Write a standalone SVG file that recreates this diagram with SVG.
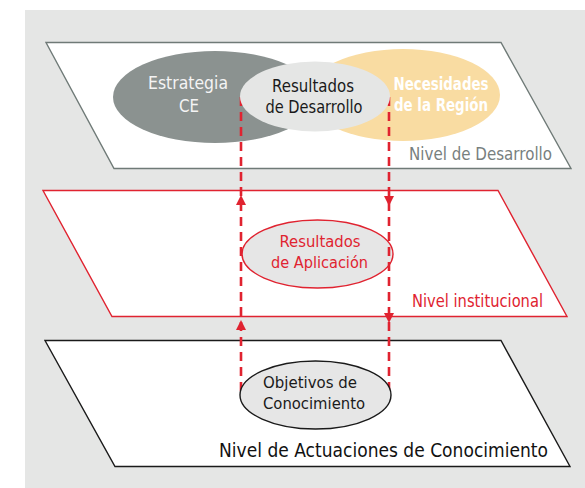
<svg xmlns="http://www.w3.org/2000/svg" width="585" height="488" viewBox="0 0 585 488">
<style>
.t{font-family:"DejaVu Sans","Liberation Sans",sans-serif;}
.lvl{stroke-width:1.4;fill:#ffffff;}
.dash{stroke:#e02330;stroke-width:2.6;stroke-dasharray:9 6;fill:none;}
.ah{fill:#e02330;}
</style>
<rect x="25" y="10" width="560" height="478" fill="#e5e6e5"/>
<g id="nivel-desarrollo">
<polygon class="lvl" points="46,42.5 501,42.5 571,168.5 114,168.5" stroke="#6f7a77"/>
<text class="t" x="409" y="160" font-size="17" fill="#78807e" textLength="143" lengthAdjust="spacingAndGlyphs">Nivel de Desarrollo</text>
</g>
<g id="nivel-institucional">
<polygon class="lvl" points="43,190.5 498,190.5 567,316.5 112,316.5" stroke="#e02330"/>
<text class="t" x="412" y="307" font-size="17" fill="#e02330" textLength="131" lengthAdjust="spacingAndGlyphs">Nivel institucional</text>
</g>
<g id="nivel-actuaciones">
<polygon class="lvl" points="45,340.5 501,340.5 570,466.5 115,466.5" stroke="#1a1a1a"/>
<text class="t" x="219" y="457" font-size="19" fill="#111" textLength="329" lengthAdjust="spacingAndGlyphs">Nivel de Actuaciones de Conocimiento</text>
</g>
<g id="estrategia-ce">
<ellipse cx="215" cy="97" rx="102" ry="46" fill="#8b9290"/>
<text class="t" x="188" y="89" font-size="17" fill="#f4f4f4" text-anchor="middle" textLength="80" lengthAdjust="spacingAndGlyphs">Estrategia</text>
<text class="t" x="189" y="112" font-size="17" fill="#f4f4f4" text-anchor="middle" textLength="20" lengthAdjust="spacingAndGlyphs">CE</text>
</g>
<g id="necesidades-region">
<ellipse cx="403" cy="95" rx="97" ry="46" fill="#f9dca2"/>
<text class="t" x="441" y="90" font-size="17" font-weight="bold" fill="#ffffff" text-anchor="middle" textLength="95" lengthAdjust="spacingAndGlyphs">Necesidades</text>
<text class="t" x="441" y="111" font-size="17" font-weight="bold" fill="#ffffff" text-anchor="middle" textLength="94" lengthAdjust="spacingAndGlyphs">de la Región</text>
</g>
<g id="resultados-aplicacion">
<ellipse cx="317.5" cy="254" rx="75.5" ry="34" fill="#e6e6e6" stroke="#e02330" stroke-width="1.4"/>
<text class="t" x="320" y="247" font-size="16" fill="#e02330" text-anchor="middle" textLength="81" lengthAdjust="spacingAndGlyphs">Resultados</text>
<text class="t" x="319.5" y="268" font-size="16" fill="#e02330" text-anchor="middle" textLength="97" lengthAdjust="spacingAndGlyphs">de Aplicación</text>
</g>
<g id="connectors">
<line class="dash" x1="241" y1="97" x2="241" y2="395"/>
<line class="dash" x1="389" y1="97" x2="389" y2="395"/>
<polygon class="ah" points="241,195 236,205 246,205"/>
<polygon class="ah" points="241,320 236,330 246,330"/>
<polygon class="ah" points="389,206 384,196 394,196"/>
<polygon class="ah" points="389,323 384,313 394,313"/>
</g>
<g id="resultados-desarrollo">
<ellipse cx="315" cy="96.5" rx="75" ry="35" fill="#e5e6e5"/>
<text class="t" x="313" y="92" font-size="17" fill="#1a1a1a" text-anchor="middle" textLength="82" lengthAdjust="spacingAndGlyphs">Resultados</text>
<text class="t" x="314" y="113" font-size="17" fill="#1a1a1a" text-anchor="middle" textLength="97" lengthAdjust="spacingAndGlyphs">de Desarrollo</text>
</g>
<g id="objetivos-conocimiento">
<ellipse cx="315.5" cy="395" rx="75.5" ry="34" fill="#e6e6e6" stroke="#1a1a1a" stroke-width="1.4"/>
<text class="t" x="263" y="388" font-size="16" fill="#1a1a1a" textLength="94" lengthAdjust="spacingAndGlyphs">Objetivos de</text>
<text class="t" x="263" y="409" font-size="16" fill="#1a1a1a" textLength="102" lengthAdjust="spacingAndGlyphs">Conocimiento</text>
</g>
</svg>
